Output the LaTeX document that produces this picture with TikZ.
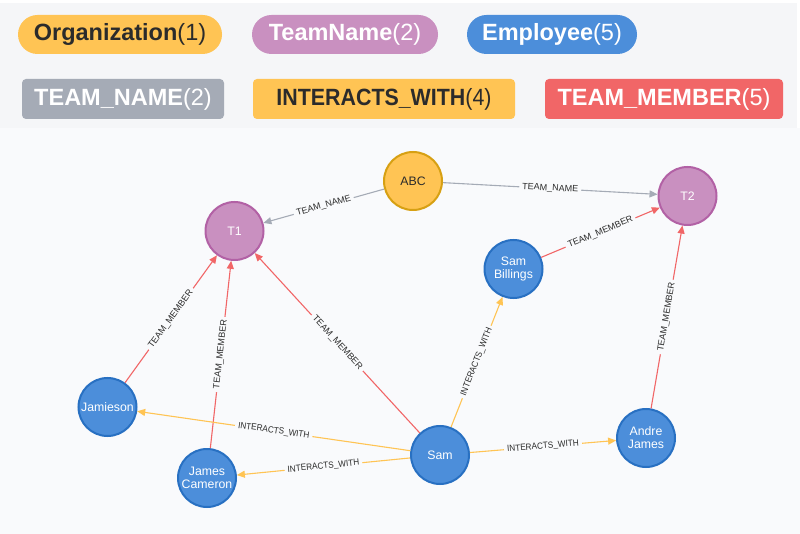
\documentclass[tikz,border=0pt]{standalone}
\usepackage{fontspec}
\setmainfont{Liberation Sans}
\newfontfamily\narrowsans[FakeStretch=0.91]{Liberation Sans}
\usetikzlibrary{arrows.meta}
\definecolor{legbg}{HTML}{F5F6F8}
\definecolor{graphbg}{HTML}{F9FAFC}
\definecolor{empfill}{HTML}{4C8EDA}
\definecolor{empline}{HTML}{2870C2}
\definecolor{teamfill}{HTML}{C990C0}
\definecolor{teamline}{HTML}{B261A5}
\definecolor{orgfill}{HTML}{FFC454}
\definecolor{orgline}{HTML}{D7A013}
\definecolor{tngray}{HTML}{A5ABB6}
\definecolor{iwyellow}{HTML}{FFC454}
\definecolor{tmred}{HTML}{F16667}
\definecolor{darktext}{HTML}{2B2B2B}
\begin{document}
\begin{tikzpicture}[x=1pt,y=-1pt,
  gnode/.style={circle, minimum size=58pt, inner sep=0pt, line width=2pt, align=center,
    font=\fontsize{12.3}{12.8}\selectfont},
  emp/.style={gnode, fill=empfill, draw=empline, text=white},
  team/.style={gnode, fill=teamfill, draw=teamline, text=white},
  org/.style={gnode, fill=orgfill, draw=orgline, text=darktext},
  edgebase/.style={line width=1.1pt, -{Triangle[length=8pt,width=7pt]}},
  tnedge/.style={edgebase, draw=tngray},
  iwedge/.style={edgebase, draw=iwyellow},
  tmedge/.style={edgebase, draw=tmred},
  elab/.style={sloped, midway, fill=graphbg, inner xsep=3pt, inner ysep=0.5pt, text=darktext,
    font=\fontsize{9}{10}\selectfont},
  iwlab/.style={elab, font=\narrowsans\fontsize{9}{10}\selectfont},
  pill/.style={rounded corners=19.5pt, minimum height=39pt, inner sep=0pt,
    font=\fontsize{23.5}{28}\selectfont},
  tag/.style={rounded corners=4pt, minimum height=40pt, inner sep=0pt,
    font=\fontsize{23.5}{28}\selectfont}
]
\useasboundingbox (0,0) rectangle (800,534);
\fill[white] (0,0) rectangle (800,534);
\fill[legbg] (0,3) rectangle (797,128);
\fill[graphbg] (0,128) rectangle (800,534);

% legend
\node[pill, fill=orgfill, text=darktext, minimum width=204pt] (lorg) at (120,34.5) {\textbf{Organization}(1)};
\node[pill, fill=teamfill, text=white, minimum width=186pt] (lteam) at (345,34.5) {\textbf{TeamName}(2)};
\node[pill, fill=empfill, text=white, minimum width=170pt] (lemp) at (552,34.5) {\textbf{Employee}(5)};
\node[tag, fill=tngray, text=white, minimum width=202pt] (ltn) at (123,99) {\textbf{TEAM\_NAME}(2)};
\node[tag, fill=iwyellow, text=darktext, minimum width=262pt, font=\narrowsans\fontsize{23.5}{28}\selectfont] (liw) at (384,99) {\textbf{INTERACTS\_WITH}(4)};
\node[tag, fill=tmred, text=white, minimum width=238pt] (ltm) at (664,99) {\textbf{TEAM\_MEMBER}(5)};

% graph nodes
\node[org] (abc) at (413,181) {ABC};
\node[team] (t1) at (234.5,231) {T1};
\node[team] (t2) at (687.5,196) {T2};
\node[emp] (sb) at (513.5,269) {Sam\\Billings};
\node[emp] (aj) at (646,438) {Andre\\James};
\node[emp] (sam) at (440,455) {Sam};
\node[emp] (jam) at (107.5,407) {Jamieson};
\node[emp] (jc) at (207,478) {James\\Cameron};

% edges
\draw[tnedge] (abc) -- node[elab]{TEAM\_NAME} (t1);
\draw[tnedge] (abc) -- node[elab]{TEAM\_NAME} (t2);
\draw[tmedge] (jam) -- node[elab]{TEAM\_MEMBER} (t1);
\draw[tmedge] (jc) -- node[elab]{TEAM\_MEMBER} (t1);
\draw[tmedge] (sam) -- node[elab]{TEAM\_MEMBER} (t1);
\draw[tmedge] (sb) -- node[elab]{TEAM\_MEMBER} (t2);
\draw[tmedge] (aj) -- node[elab]{TEAM\_MEMBER} (t2);
\draw[iwedge] (sam) -- node[iwlab]{INTERACTS\_WITH} (jam);
\draw[iwedge] (sam) -- node[iwlab]{INTERACTS\_WITH} (jc);
\draw[iwedge] (sam) -- node[iwlab]{INTERACTS\_WITH} (sb);
\draw[iwedge] (sam) -- node[iwlab]{INTERACTS\_WITH} (aj);
\end{tikzpicture}
\end{document}
